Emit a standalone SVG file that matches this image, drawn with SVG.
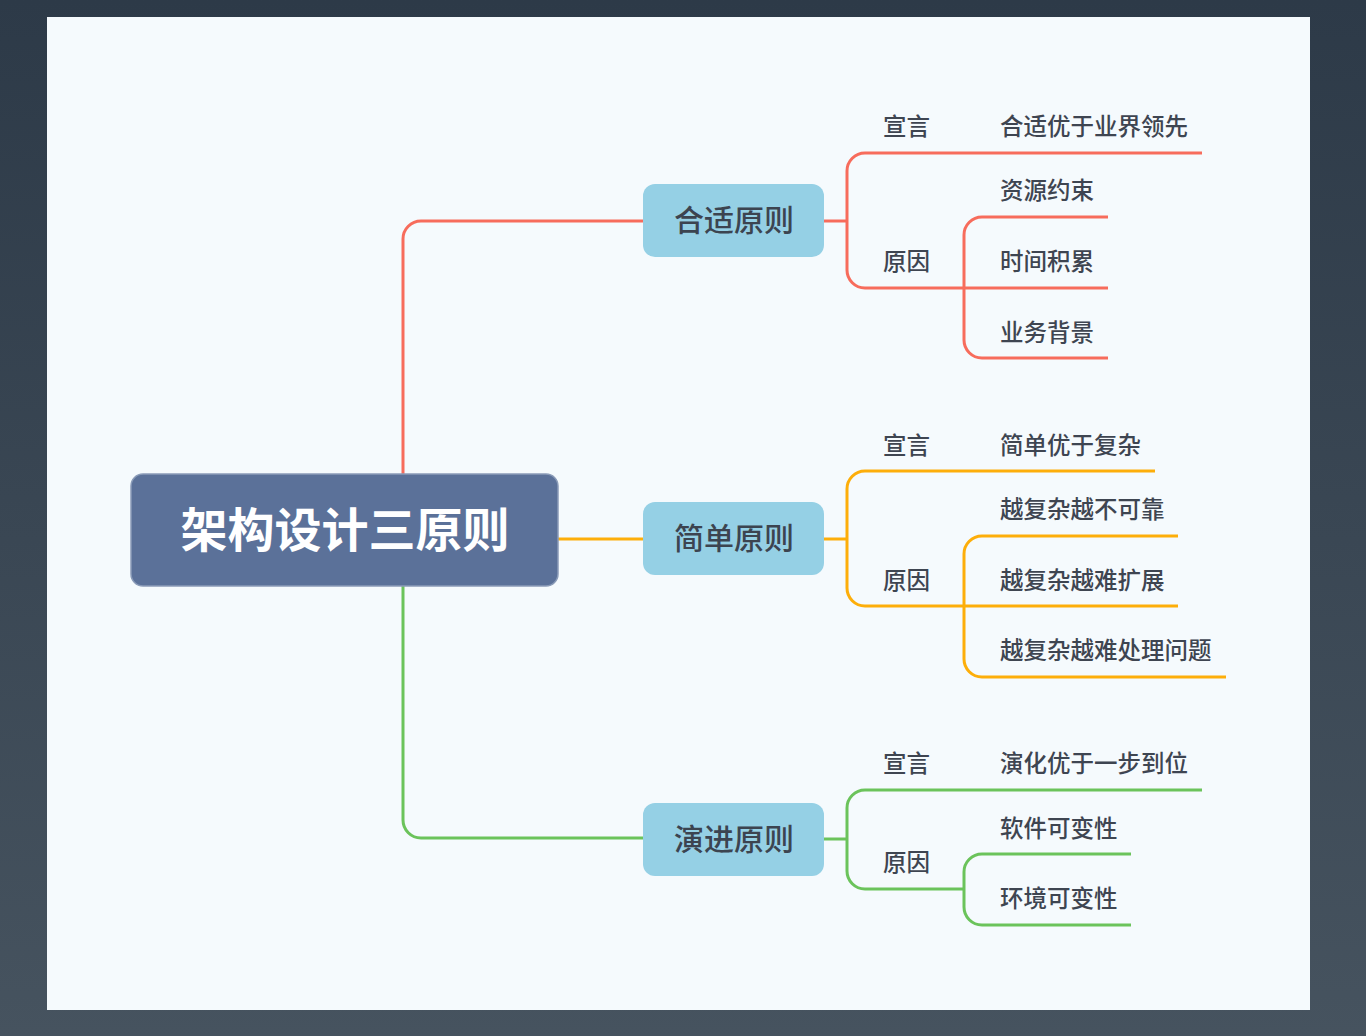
<svg xmlns="http://www.w3.org/2000/svg" width="1366" height="1036" viewBox="0 0 1366 1036">
<defs>
<linearGradient id="bg" x1="0" y1="0" x2="0" y2="1">
<stop offset="0" stop-color="#2d3a48"/>
<stop offset="1" stop-color="#46535f"/>
</linearGradient>
<style>
.c{fill:none;stroke-width:3;stroke-linecap:butt;stroke-linejoin:round}
.r{stroke:#f76c5c}
.o{stroke:#fdae0a}
.g{stroke:#6bc35b}
.root{fill:#5b7199;stroke:#8a9bb8;stroke-width:1.5}
.br{fill:#95d0e5}
.rt{font-family:"Noto Sans CJK SC",sans-serif;font-weight:700;font-size:47px;fill:#ffffff}
.bt{font-family:"Noto Sans CJK SC",sans-serif;font-weight:500;font-size:30px;fill:#3c4450}
.lt{font-family:"Noto Sans CJK SC",sans-serif;font-weight:500;font-size:23.5px;fill:#3e4551}
</style>
</defs>
<rect width="1366" height="1036" fill="url(#bg)"/>
<rect x="47" y="17" width="1263" height="993" fill="#f5fafd"/>

<g id="connectors">
<path class="c r" d="M403 474 V239 A18 18 0 0 1 421 221 H643"/>
<path class="c o" d="M558 539 H643"/>
<path class="c g" d="M403 586 V820 A18 18 0 0 0 421 838 H643"/>

<path class="c r" d="M824 221 H847"/>
<path class="c r" d="M1202 153 H865 A18 18 0 0 0 847 171 V270 A18 18 0 0 0 865 288 H1108"/>
<path class="c r" d="M1108 217 H982 A18 18 0 0 0 964 235 V340 A18 18 0 0 0 982 358 H1108"/>

<path class="c o" d="M824 539 H847"/>
<path class="c o" d="M1155 471 H865 A18 18 0 0 0 847 489 V588 A18 18 0 0 0 865 606 H1178"/>
<path class="c o" d="M1178 536 H982 A18 18 0 0 0 964 554 V659 A18 18 0 0 0 982 677 H1226"/>

<path class="c g" d="M824 839 H847"/>
<path class="c g" d="M1202 790 H865 A18 18 0 0 0 847 808 V871 A18 18 0 0 0 865 889 H964"/>
<path class="c g" d="M1131 854 H982 A18 18 0 0 0 964 872 V907 A18 18 0 0 0 982 925 H1131"/>
</g>

<g id="root">
<rect class="root" x="131" y="474" width="427" height="112" rx="12"/>
<text class="rt" x="345" y="547" text-anchor="middle">架构设计三原则</text>
</g>

<g id="n-heshi">
<rect class="br" x="643" y="184" width="181" height="73" rx="12"/>
<text class="bt" x="734" y="231" text-anchor="middle">合适原则</text>
</g>
<g id="n-jiandan">
<rect class="br" x="643" y="502" width="181" height="73" rx="12"/>
<text class="bt" x="734" y="549" text-anchor="middle">简单原则</text>
</g>
<g id="n-yanjin">
<rect class="br" x="643" y="803" width="181" height="73" rx="12"/>
<text class="bt" x="734" y="850" text-anchor="middle">演进原则</text>
</g>

<g id="red-leaves">
<g id="r-xuanyan"><text class="lt" x="883" y="135">宣言</text></g>
<g id="r-xy1"><text class="lt" x="1000" y="135">合适优于业界领先</text></g>
<g id="r-yuanyin"><text class="lt" x="883" y="270">原因</text></g>
<g id="r-y1"><text class="lt" x="1000" y="199">资源约束</text></g>
<g id="r-y2"><text class="lt" x="1000" y="270">时间积累</text></g>
<g id="r-y3"><text class="lt" x="1000" y="341">业务背景</text></g>
</g>

<g id="orange-leaves">
<g id="o-xuanyan"><text class="lt" x="883" y="454">宣言</text></g>
<g id="o-xy1"><text class="lt" x="1000" y="454">简单优于复杂</text></g>
<g id="o-yuanyin"><text class="lt" x="883" y="589">原因</text></g>
<g id="o-y1"><text class="lt" x="1000" y="518">越复杂越不可靠</text></g>
<g id="o-y2"><text class="lt" x="1000" y="589">越复杂越难扩展</text></g>
<g id="o-y3"><text class="lt" x="1000" y="659">越复杂越难处理问题</text></g>
</g>

<g id="green-leaves">
<g id="g-xuanyan"><text class="lt" x="883" y="772">宣言</text></g>
<g id="g-xy1"><text class="lt" x="1000" y="772">演化优于一步到位</text></g>
<g id="g-yuanyin"><text class="lt" x="883" y="871">原因</text></g>
<g id="g-y1"><text class="lt" x="1000" y="837">软件可变性</text></g>
<g id="g-y2"><text class="lt" x="1000" y="907">环境可变性</text></g>
</g>
</svg>
